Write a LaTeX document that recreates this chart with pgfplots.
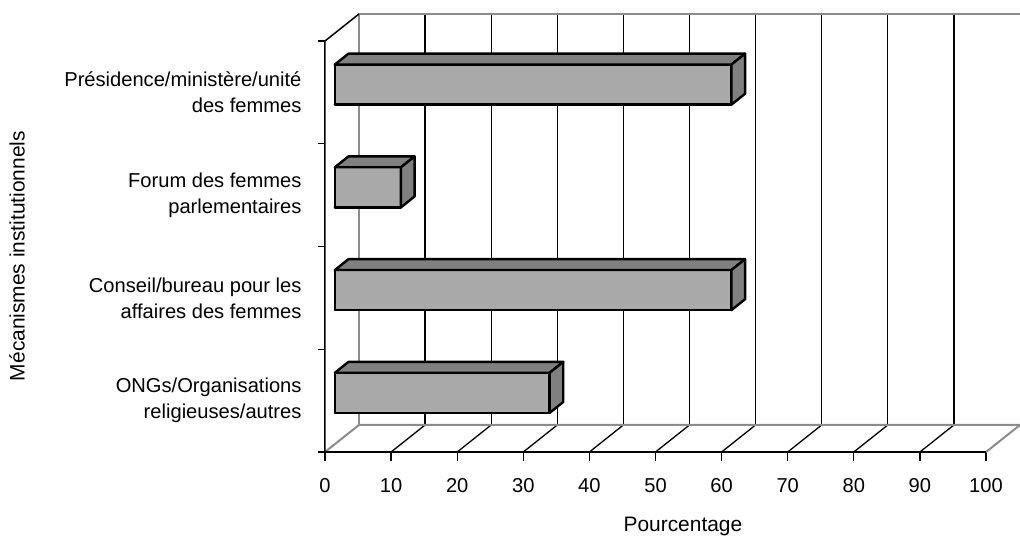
\documentclass[border=0pt]{standalone}
\usepackage{pgfplots}
\pgfplotsset{compat=1.18}
\usepackage{fontspec}
\setmainfont{Liberation Sans}

\definecolor{barfront}{RGB}{169,169,169}
\definecolor{barshade}{RGB}{128,128,128}
\definecolor{wallgray}{RGB}{140,140,140}

% front and back planes of the bars (axis units) and half bar height
\def\bfx{1.49}\def\bfy{0.076}
\def\bbx{3.55}\def\bby{0.182}
\def\bhh{0.195}

% \barbox{band}{value}: one pseudo-3D bar (front, top and side faces)
\newcommand\barbox[2]{%
  \pgfmathsetmacro\bxa{\bfx}%
  \pgfmathsetmacro\bxb{\bfx+#2}%
  \pgfmathsetmacro\bxc{\bbx+#2}%
  \pgfmathsetmacro\bxd{\bbx}%
  \pgfmathsetmacro\bya{#1+0.5-\bhh+\bfy}%
  \pgfmathsetmacro\byb{#1+0.5+\bhh+\bfy}%
  \pgfmathsetmacro\byc{#1+0.5-\bhh+\bby}%
  \pgfmathsetmacro\byd{#1+0.5+\bhh+\bby}%
  \edef\barnext{%
    \noexpand\addplot[barface, fill=barfront] coordinates
      {(\bxa,\bya) (\bxb,\bya) (\bxb,\byb) (\bxa,\byb) (\bxa,\bya)};
    \noexpand\addplot[barface, fill=barshade] coordinates
      {(\bxa,\byb) (\bxb,\byb) (\bxc,\byd) (\bxd,\byd) (\bxa,\byb)};
    \noexpand\addplot[barface, fill=barshade] coordinates
      {(\bxb,\bya) (\bxc,\byc) (\bxc,\byd) (\bxb,\byb) (\bxb,\bya)};
  }\barnext
}

\begin{document}
\begin{tikzpicture}
\begin{axis}[
  width=695bp, height=438bp, scale only axis,
  xmin=0, xmax=105.14, ymin=0, ymax=4.263,
  clip=false,
  axis x line*=bottom, axis y line*=left,
  axis line style={draw=none},
  tick align=outside,
  /pgf/number format/assume math mode=true,
  tick label style={font=\fontsize{20.2}{26}\selectfont, black},
  label style={font=\fontsize{21}{24}\selectfont, black},
  xtick={0,10,...,100},
  xticklabel style={yshift=-14bp},
  major tick length=9bp,
  minor tick length=7bp,
  major x tick style={black, line width=1.3bp},
  ytick={0.5,1.5,2.5,3.5},
  yticklabels={{ONGs/Organisations\\religieuses/autres},
               {Conseil/bureau pour les\\affaires des femmes},
               {Forum des femmes\\parlementaires},
               {Présidence/ministère/unité\\des femmes}},
  yticklabel style={align=right, xshift=-11bp},
  major y tick style={draw=none},
  minor ytick={0,1,2,3,4},
  minor y tick style={black, line width=1.3bp},
  xlabel={Pourcentage},
  xlabel style={at={(axis description cs:0.515,0)}, anchor=base, yshift=-79bp},
  ylabel={Mécanismes institutionnels},
  ylabel style={at={(axis description cs:-0.432,0.4475)}, anchor=base, rotate=0},
  wall/.style={draw=wallgray, line width=2bp, line join=round, forget plot},
  gridline/.style={draw=black, line width=1.3bp, forget plot},
  barface/.style={draw=black, line width=2.4bp, line join=round, line cap=round, forget plot},
]
% back wall and floor
\pgfplotsforeachungrouped \k in {10,20,...,90}{%
  \pgfmathsetmacro\kb{\k+5.14}%
  \edef\gridnext{%
    \noexpand\addplot[gridline] coordinates {(\kb,0.263) (\kb,4.263)};
    \noexpand\addplot[gridline] coordinates {(\k,0) (\kb,0.263)};
  }\gridnext
}
\addplot[wall] coordinates {(5.14,0.263) (5.14,4.263) (105.14,4.263)};
\addplot[wall] coordinates {(0,0) (5.14,0.263) (105.14,0.263) (100,0)};

% bars: band, percentage
\barbox{0}{32.5}
\barbox{1}{60}
\barbox{2}{10}
\barbox{3}{60}

% front edges
\addplot[draw=black, line width=1.5bp, forget plot] coordinates {(0,0) (100,0)};
\addplot[draw=black, line width=1.5bp, forget plot] coordinates {(0,0) (0,4) (5.14,4.263)};
\end{axis}
\pgfresetboundingbox
\useasboundingbox (-325bp,-84bp) rectangle (695bp,452bp);
\end{tikzpicture}
\end{document}
